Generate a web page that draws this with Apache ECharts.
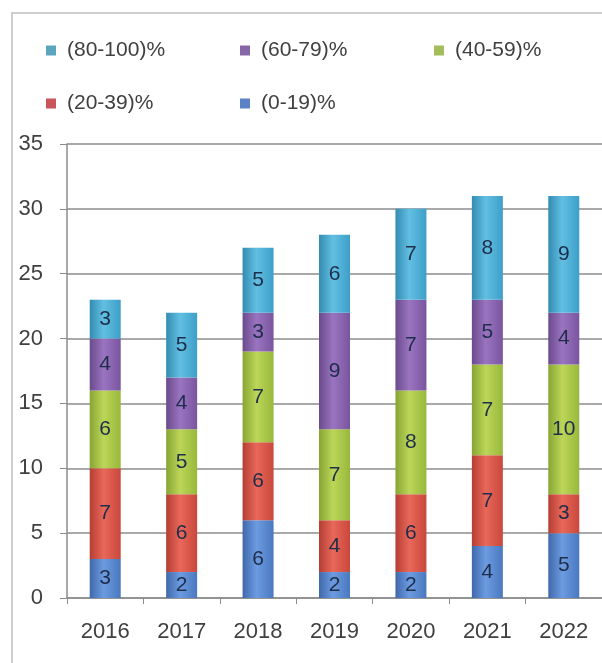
<!DOCTYPE html>
<html>
<head>
<meta charset="utf-8">
<script src="https://cdn.jsdelivr.net/npm/echarts@6/dist/echarts.min.js"></script>
<style>html,body{margin:0;padding:0;background:#fff}#c{width:602px;height:663px}</style>
</head>
<body>
<div id="c"></div>
<script>
const years = ['2016','2017','2018','2019','2020','2021','2022'];
const s0_19 = [3,2,6,2,2,4,5];
const s20_39 = [7,6,6,4,6,7,3];
const s40_59 = [6,5,7,7,8,7,10];
const s60_79 = [4,4,3,9,7,5,4];
const s80_100 = [3,5,5,6,7,8,9];
const yTicks = [0,5,10,15,20,25,30,35];

const seriesDefs = [
  {name:'(0-19)%', data:s0_19, c:['#4a78c0','#6c9be0','#3f68aa'], leg:'#5a82c4'},
  {name:'(20-39)%', data:s20_39, c:['#c9473c','#e8685a','#b53d33'], leg:'#c9545a'},
  {name:'(40-59)%', data:s40_59, c:['#98b83c','#bcd658','#87a533'], leg:'#a3bd5a'},
  {name:'(60-79)%', data:s60_79, c:['#7a559f','#9a74c0','#6a4a8c'], leg:'#8867a8'},
  {name:'(80-100)%', data:s80_100, c:['#3d9fc8','#62bfe2','#338cb2'], leg:'#5aa6bf'}
];

const font = '"Liberation Sans", Arial, sans-serif';
const chart = echarts.init(document.getElementById('c'), null, {renderer:'canvas'});

const legendPos = {
  '(80-100)%':[46,40], '(60-79)%':[240,40], '(40-59)%':[434,40],
  '(20-39)%':[46,93], '(0-19)%':[240,93]
};
const legendColor = {};
seriesDefs.forEach(s=>legendColor[s.name]=s.leg);
const legends = Object.keys(legendPos).map(n=>({
  data:[{name:n, itemStyle:{color:legendColor[n]}}], left:legendPos[n][0], top:legendPos[n][1],
  icon:'rect', itemWidth:10, itemHeight:10, itemGap:6, padding:0,
  textStyle:{fontSize:21, color:'#404040', fontFamily:font, padding:[0,0,0,6]}
}));

chart.setOption({
  animation:false,
  graphic:[{type:'rect', shape:{x:12,y:13,width:620,height:700}, style:{fill:'none', stroke:'#cfcfcf', lineWidth:2}, z:-10}],
  legend: legends,
  grid:{left:67, right:-4, top:144, bottom:65},
  xAxis:{
    type:'category', data:years,
    axisLine:{lineStyle:{color:'#8c8c8c', width:1.5}},
    axisTick:{show:true, length:6, lineStyle:{color:'#8c8c8c'}},
    axisLabel:{fontSize:22, color:'#404040', margin:23, fontFamily:font}
  },
  yAxis:{
    type:'value', min:yTicks[0], max:yTicks[yTicks.length-1], interval:5,
    axisLine:{show:true, lineStyle:{color:'#8c8c8c', width:1.5}},
    axisTick:{show:true, inside:false, length:7, lineStyle:{color:'#8c8c8c'}},
    axisLabel:{fontSize:22, color:'#404040', margin:24, fontFamily:font},
    splitLine:{lineStyle:{color:'#8c8c8c', width:1.5}}
  },
  series: seriesDefs.map(s=>({
    name:s.name, type:'bar', stack:'t', data:s.data, barWidth:31,
    itemStyle:{color:new echarts.graphic.LinearGradient(0,0,1,0,[
      {offset:0,color:s.c[2]},{offset:0.45,color:s.c[1]},{offset:1,color:s.c[0]}])},
    label:{show:true, position:'inside', fontSize:21, color:'#1e2d4a', fontFamily:font}
  }))
});
</script>
</body>
</html>
